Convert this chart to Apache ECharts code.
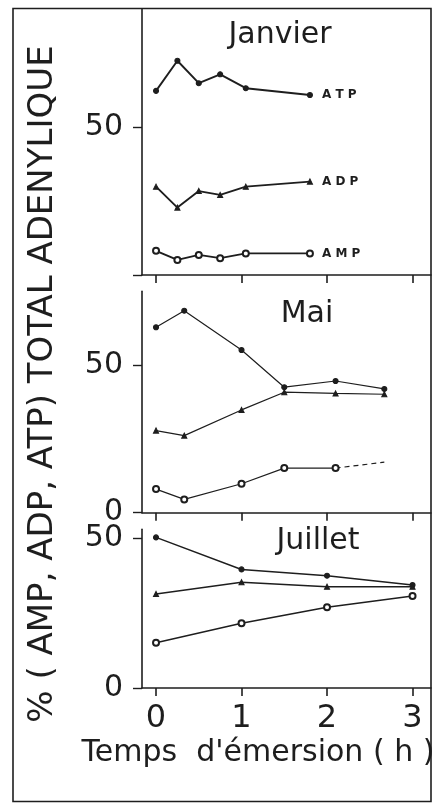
<!DOCTYPE html>
<html>
<head>
<meta charset="utf-8">
<script src="https://cdn.jsdelivr.net/npm/echarts@6/dist/echarts.min.js"></script>
<style>
  html, body { margin: 0; padding: 0; background: #fff; }
  #chart { width: 435px; height: 805px; }
</style>
</head>
<body>
<div id="chart"></div>
<script>
// panels, top to bottom
const panelTitles = ['Janvier', 'Mai', 'Juillet'];
const seriesNames = ['ATP', 'ADP', 'AMP'];
const xTicks = [0, 1, 2, 3];
const yTickValues = [0, 50];

// Janvier
const janvierHours = [0, 0.25, 0.5, 0.75, 1.05, 1.8];
const janvierATP = [62.3, 72.5, 64.9, 67.9, 63.2, 60.9];
const janvierADP = [29.9, 22.8, 28.4, 27.1, 29.9, 31.6];
const janvierAMP = [8.2, 5.1, 6.8, 5.7, 7.3, 7.3];

// Mai (last AMP point is only reached by a dashed segment)
const maiHours = [0, 0.33, 1, 1.5, 2.1, 2.67];
const maiATP = [62.8, 68.4, 55.1, 42.5, 44.6, 41.9];
const maiADP = [27.8, 26.1, 34.8, 40.8, 40.4, 40.1];
const maiAMP = [8.0, 4.5, 9.8, 15.1, 15.1, 17.1];

// Juillet
const juilletHours = [0, 1, 2, 3];
const juilletATP = [50.3, 39.6, 37.5, 34.4];
const juilletADP = [31.4, 35.3, 33.8, 33.8];
const juilletAMP = [15.1, 21.6, 27.0, 30.7];

const ink = '#1e1e1e';
const font = 'DejaVu Sans';

const layout = [
  { top: 9, height: 266, yMax: 90, lineWidth: 1.9, labels: [50] },
  { top: 291.2, height: 221.5, yMax: 75, lineWidth: 1.2, labels: [0, 50] },
  { top: 529.3, height: 158.7, yMax: 53, lineWidth: 1.5, labels: [0, 50] }
];

const symbols = {
  ATP: { symbol: 'circle', symbolSize: 5 },
  ADP: { symbol: 'triangle', symbolSize: 5 },
  AMP: { symbol: 'emptyCircle', symbolSize: 6 }
};

function zip(hours, values) {
  return hours.map((h, i) => [h, values[i]]);
}

function lineSeries(panel, name, data, extra) {
  return Object.assign({
    type: 'line',
    name: name,
    xAxisIndex: panel,
    yAxisIndex: panel,
    data: data,
    symbol: symbols[name].symbol,
    symbolSize: symbols[name].symbolSize,
    showAllSymbol: true,
    itemStyle: { color: ink, borderColor: ink, borderWidth: 1.1 },
    lineStyle: { color: ink, width: layout[panel].lineWidth },
    z: name === 'AMP' ? 4 : 3
  }, extra || {});
}

const grids = layout.map((l) => ({ left: 142, width: 289, top: l.top, height: l.height }));

const xAxes = layout.map((l, i) => ({
  gridIndex: i,
  type: 'value',
  min: -0.164,
  max: 3.216,
  axisLine: { show: true, lineStyle: { color: ink, width: 1.6 } },
  axisTick: { show: true, customValues: xTicks, length: 8, lineStyle: { color: ink, width: 1.6 } },
  axisLabel: i === 2
    ? { show: true, customValues: xTicks, color: ink, fontSize: 32, fontFamily: font, margin: 15 }
    : { show: false },
  splitLine: { show: false }
}));

const yAxes = layout.map((l, i) => ({
  gridIndex: i,
  type: 'value',
  min: 0,
  max: l.yMax,
  axisLine: { show: true, onZero: false, lineStyle: { color: ink, width: 1.6 } },
  axisTick: { show: true, customValues: yTickValues, length: 9, lineStyle: { color: ink, width: 1.4 } },
  axisLabel: { show: true, customValues: l.labels, color: ink, fontSize: 30, fontFamily: font, margin: 19 },
  splitLine: { show: false }
}));

const endLabel = (text) => ({
  endLabel: {
    show: true,
    formatter: text,
    distance: 12,
    color: ink,
    fontSize: 12,
    fontWeight: 'bold',
    fontFamily: font
  }
});

const series = [
  lineSeries(0, 'ATP', zip(janvierHours, janvierATP), endLabel('A T P')),
  lineSeries(0, 'ADP', zip(janvierHours, janvierADP), endLabel('A D P')),
  lineSeries(0, 'AMP', zip(janvierHours, janvierAMP), endLabel('A M P')),

  lineSeries(1, 'ATP', zip(maiHours, maiATP)),
  lineSeries(1, 'ADP', zip(maiHours, maiADP)),
  lineSeries(1, 'AMP', zip(maiHours.slice(0, 5), maiAMP.slice(0, 5))),
  lineSeries(1, 'AMP', zip(maiHours.slice(4), maiAMP.slice(4)), {
    symbol: 'none',
    lineStyle: { color: ink, width: 1.2, type: [5, 4] },
    z: 2
  }),

  lineSeries(2, 'ATP', zip(juilletHours, juilletATP)),
  lineSeries(2, 'ADP', zip(juilletHours, juilletADP)),
  lineSeries(2, 'AMP', zip(juilletHours, juilletAMP))
];

const titlePos = [[280, 35], [307, 314], [318, 541]];

const graphics = [
  {
    type: 'rect',
    shape: { x: 13, y: 8.5, width: 418, height: 793 },
    style: { fill: 'none', stroke: ink, lineWidth: 1.6 },
    silent: true
  },
  ...panelTitles.map((t, i) => ({
    type: 'text',
    x: titlePos[i][0],
    y: titlePos[i][1],
    style: { text: t, fill: ink, font: `30px "${font}"`, align: 'center', verticalAlign: 'middle' }
  })),
  {
    type: 'text',
    x: 258,
    y: 753,
    style: { text: "Temps  d'émersion ( h )", fill: ink, font: `30px "${font}"`, align: 'center', verticalAlign: 'middle' }
  },
  {
    type: 'text',
    x: 43,
    y: 384,
    rotation: Math.PI / 2,
    style: { text: '% ( AMP, ADP, ATP) TOTAL ADENYLIQUE', fill: ink, font: `34px "${font}"`, align: 'center', verticalAlign: 'middle' }
  }
];

const chart = echarts.init(document.getElementById('chart'));
chart.setOption({
  animation: false,
  backgroundColor: '#fff',
  grid: grids,
  xAxis: xAxes,
  yAxis: yAxes,
  series: series,
  graphic: graphics
});
</script>
</body>
</html>
